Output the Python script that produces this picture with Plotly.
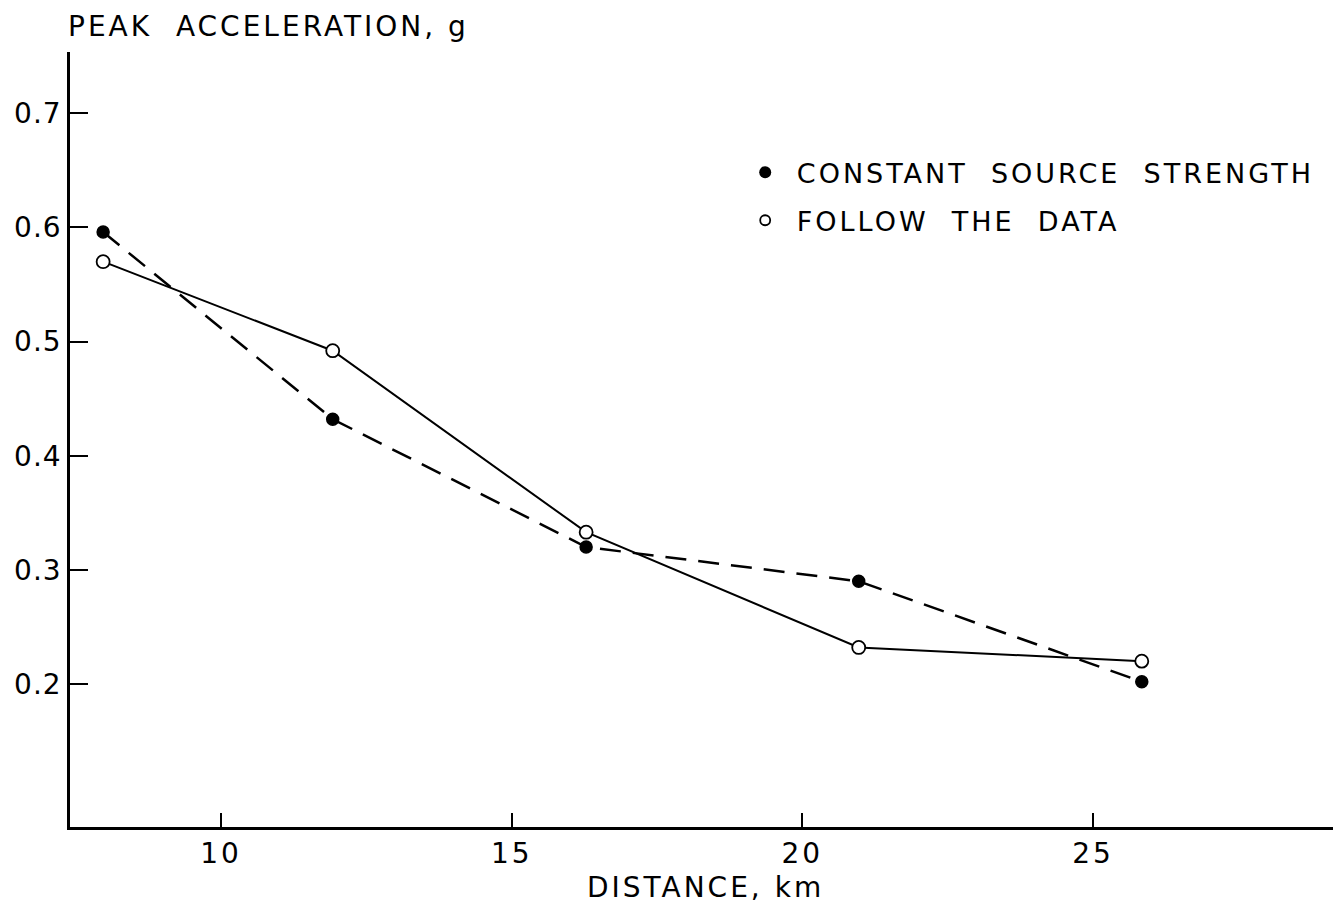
import plotly.graph_objects as go

distance_km = [7.97, 11.92, 16.28, 20.97, 25.84]
constant_source_strength = [0.596, 0.432, 0.320, 0.290, 0.202]
follow_the_data = [0.570, 0.492, 0.333, 0.232, 0.220]

x_ticks = [10, 15, 20, 25]
x_tick_labels = ["10", "15", "20", "25"]
y_ticks = [0.2, 0.3, 0.4, 0.5, 0.6, 0.7]
y_tick_labels = ["0.2", "0.3", "0.4", "0.5", "0.6", "0.7"]

FONT = "DejaVu Sans"
NB = "\u00a0"


def spaced(s, px):
    return '<span style="letter-spacing:%spx">%s</span>' % (px, s)


fig = go.Figure()

fig.add_trace(go.Scatter(
    x=distance_km, y=constant_source_strength, mode="lines+markers",
    line=dict(color="black", width=2.5, dash="21px,12px"),
    marker=dict(symbol="circle", size=12, color="black", line=dict(color="black", width=1.5)),
    showlegend=False))

fig.add_trace(go.Scatter(
    x=distance_km, y=follow_the_data, mode="lines+markers",
    line=dict(color="black", width=2),
    marker=dict(symbol="circle", size=13, color="white", line=dict(color="black", width=1.8)),
    showlegend=False))

fig.add_trace(go.Scatter(
    x=[None], y=[None], mode="markers",
    name=spaced(NB + "CONSTANT" + NB + NB + "SOURCE" + NB + NB + "STRENGTH", 3),
    marker=dict(symbol="circle", size=12, color="black"), legendgroup="a"))
fig.add_trace(go.Scatter(
    x=[None], y=[None], mode="markers",
    name=spaced(NB + "FOLLOW" + NB + NB + "THE" + NB + NB + "DATA", 3),
    marker=dict(symbol="circle-open", size=10, color="black", line=dict(width=1.8)), legendgroup="b"))

fig.update_layout(
    width=1337, height=913,
    margin=dict(l=70, r=4, t=52, b=86),
    paper_bgcolor="white", plot_bgcolor="white",
    font=dict(family=FONT, size=27, color="black"),
    showlegend=True,
    legend=dict(x=0.5346, y=0.876, xanchor="left", yanchor="top",
                bgcolor="rgba(0,0,0,0)", font=dict(family=FONT, size=27),
                tracegroupgap=10, itemsizing="trace"),
    xaxis=dict(range=[7.40, 29.13], showgrid=False, zeroline=False,
               showline=True, linecolor="black", linewidth=2.5,
               ticks="inside", ticklen=14, tickwidth=2, tickcolor="black",
               tickmode="array", tickvals=x_ticks,
               ticktext=[spaced(t, 3) for t in x_tick_labels],
               tickfont=dict(family=FONT, size=28)),
    yaxis=dict(range=[0.0747, 0.7537], showgrid=False, zeroline=False,
               showline=True, linecolor="black", linewidth=2.5,
               ticks="inside", ticklen=18, tickwidth=2, tickcolor="black",
               tickmode="array", tickvals=y_ticks,
               ticktext=[spaced(t, 1) for t in y_tick_labels],
               tickfont=dict(family=FONT, size=28)),
    annotations=[
        dict(text=spaced("PEAK" + NB + NB + "ACCELERATION," + NB + "g", 3), xref="paper", yref="paper",
             x=0, y=1, xanchor="left", yanchor="bottom", xshift=-4, yshift=7,
             showarrow=False, font=dict(family=FONT, size=28)),
        dict(text=spaced("DISTANCE," + NB + "km", 3), xref="paper", yref="paper",
             x=0.5, y=0, xanchor="center", yanchor="top", xshift=4, yshift=-42,
             showarrow=False, font=dict(family=FONT, size=28)),
    ],
)

fig.write_html("out.html")
